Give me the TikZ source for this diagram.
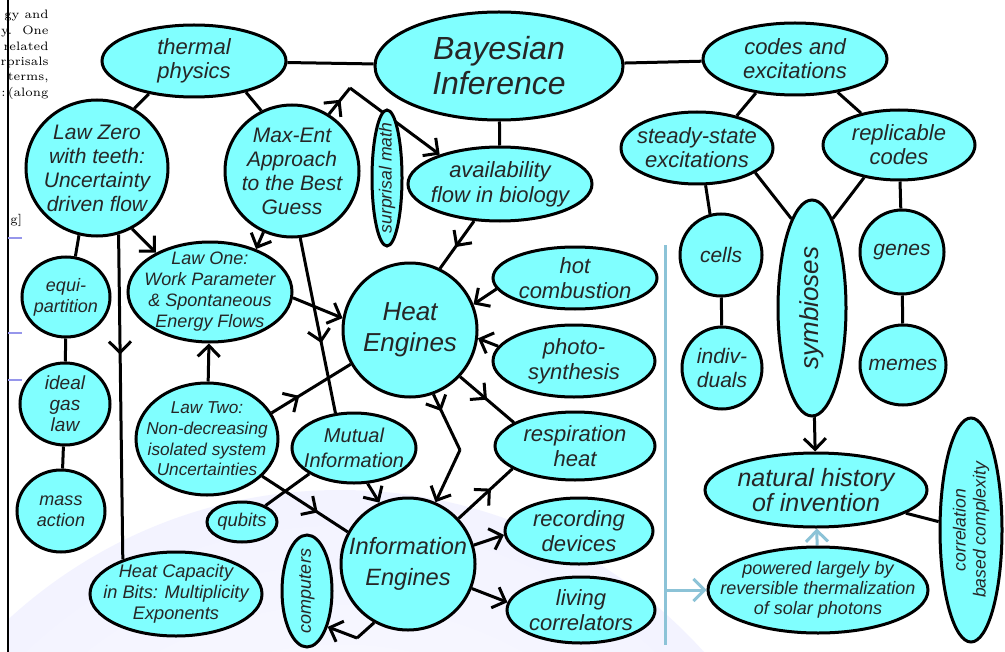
\documentclass[tikz,border=0pt]{standalone}
\usepackage{fontspec}
\usetikzlibrary{shapes.geometric, arrows.meta, decorations.markings}
\newfontfamily\mapfont{Liberation Sans}
\definecolor{cyanfill}{RGB}{128,255,255}
\definecolor{rail}{RGB}{140,195,215}
\definecolor{tickblue}{RGB}{150,150,235}
\pgfdeclarelayer{globe}
\pgfdeclarelayer{edges}
\pgfsetlayers{globe,edges,main}
\pgfdeclareradialshading{globeshade}{\pgfpointorigin}{color(0bp)=(white); color(36bp)=(blue!7); color(43bp)=(blue!11); color(47bp)=(blue!26); color(50bp)=(blue!50)}

\begin{document}
\begin{tikzpicture}[x=0.5pt, y=-0.5pt,
    blob/.style={ellipse, draw=black, line width=1.5pt, fill=cyanfill, inner xsep=-60pt, inner ysep=-60pt, align=center, text=black!85},
    txt/.style 2 args={font=\mapfont\itshape\fontsize{#1}{#2}\selectfont},
    link/.style={line width=1.5pt},
    flow/.style={link, -{Straight Barb[length=5.5pt, width=11pt]}},
    midflow/.style={link, postaction={decorate}, decoration={markings, mark=at position #1 with {\arrow{Straight Barb[length=5.5pt, width=11pt]}}}}]
    \useasboundingbox (0,0) rectangle (1005,652);

    % page behind the map
    \begin{pgfonlayer}{globe}
        \fill[white] (0,0) rectangle (1005,652);
        \begin{scope}
            \clip (9,0) rectangle (1005,652);
            \shade[shading=globeshade] (340,980) circle[radius=245pt];
        \end{scope}
    \end{pgfonlayer}
    \draw[line width=1pt] (8,0) -- (8,652);
    \foreach \w [count=\i] in {gy and, y.~~One, related, rprisals, {terms,}, :\,(along}
    {
        \node[anchor=east, inner sep=0pt, font=\fontsize{6.1}{7.5}\selectfont] (frag\i) at (49, {15.6*\i}) {\w};
    }
    \node[anchor=west, inner sep=0pt, font=\fontsize{6.1}{7.5}\selectfont] (fragend) at (10,220) {g]};
    \foreach \y in {238,333,380}
        \draw[tickblue, line width=1pt] (8,\y) -- (22,\y);

    % top row
    \node[blob, minimum width=92pt, minimum height=36pt, txt={11}{12}] (thermal) at (194,61) {thermal\\physics};
    \node[blob, minimum width=124pt, minimum height=54pt, txt={16}{17.5}] (bayes) at (499,66) {Bayesian\\Inference};
    \node[blob, minimum width=92pt, minimum height=36pt, txt={11}{12}] (codes) at (795,59) {codes and\\excitations};

    % left side
    \node[blob, minimum width=71pt, minimum height=68pt, txt={10.5}{12}] (lawzero) at (97,168) {Law Zero\\with teeth:\\Uncertainty\\driven flow};
    \node[blob, minimum width=67pt, minimum height=66pt, txt={10.5}{12}] (maxent) at (292,171) {Max-Ent\\Approach\\to the Best\\Guess};
    \node[blob, rotate=90, minimum width=68pt, minimum height=15pt, txt={8.8}{10}] (surprisal) at (387,178) {surprisal math};
    \node[blob, minimum width=92pt, minimum height=37pt, txt={11}{12.5}] (avail) at (500,184) {availability\\flow in biology};
    \node[blob, minimum width=82pt, minimum height=50pt, txt={9}{10.5}] (lawone) at (210,292) {Law One:\\Work Parameter\\\& Spontaneous\\Energy Flows};
    \node[blob, minimum width=44pt, minimum height=40pt, txt={9}{10.5}] (equi) at (66,297) {equi-\\partition};
    \node[blob, minimum width=45pt, minimum height=41pt, txt={9.5}{10.5}] (ideal) at (65,404) {ideal\\gas\\law};
    \node[blob, minimum width=44pt, minimum height=41pt, txt={9}{10.5}] (mass) at (61,511) {mass\\action};
    \node[blob, minimum width=71pt, minimum height=56pt, txt={8.6}{10.3}] (lawtwo) at (207,439) {Law Two:\\Non-decreasing\\isolated system\\Uncertainties};
    \node[blob, minimum width=62pt, minimum height=35pt, txt={10}{12.5}] (mutual) at (354,448) {Mutual\\Information};
    \node[blob, minimum width=35pt, minimum height=20pt, txt={9.2}{10}] (qubits) at (242,522) {qubits};
    \node[blob, rotate=90, minimum width=56pt, minimum height=25pt, txt={9}{10}] (computers) at (307,591) {computers};
    \node[blob, minimum width=86pt, minimum height=42pt, txt={9.1}{10.5}] (hcap) at (176,594) {Heat Capacity\\in Bits: Multiplicity\\Exponents};

    % engines
    \node[blob, minimum width=67pt, minimum height=67pt, txt={13}{15.5}] (heat) at (410,330) {Heat\\Engines};
    \node[blob, minimum width=67pt, minimum height=66pt, txt={11.8}{15.5}] (info) at (408,564) {Information\\Engines};
    \node[blob, minimum width=82pt, minimum height=31pt, txt={11}{12.5}] (hot) at (575,278) {hot\\combustion};
    \node[blob, minimum width=81pt, minimum height=36pt, txt={11}{12.5}] (photo) at (574,361) {photo-\\synthesis};
    \node[blob, minimum width=80pt, minimum height=34pt, txt={11}{12.5}] (resp) at (575,446) {respiration\\heat};
    \node[blob, minimum width=74pt, minimum height=33pt, txt={11}{12.5}] (rec) at (579,531) {recording\\devices};
    \node[blob, minimum width=74pt, minimum height=33pt, txt={11}{12.5}] (living) at (581,610) {living\\correlators};

    % right side
    \node[blob, minimum width=76pt, minimum height=36pt, txt={11}{12}] (steady) at (697,148) {steady-state\\excitations};
    \node[blob, minimum width=76pt, minimum height=35pt, txt={11}{12}] (repl) at (899,145) {replicable\\codes};
    \node[blob, minimum width=41pt, minimum height=41pt, txt={10.5}{12}] (cells) at (721,255) {cells};
    \node[blob, minimum width=40pt, minimum height=41pt, txt={10.5}{12}] (indiv) at (722,368) {indiv-\\duals};
    \node[blob, rotate=90, minimum width=108pt, minimum height=34pt, txt={13}{14}] (symb) at (812,308) {symbioses};
    \node[blob, minimum width=42pt, minimum height=42pt, txt={10.5}{12}] (genes) at (902,252) {genes};
    \node[blob, minimum width=43pt, minimum height=40pt, txt={10.5}{12}] (memes) at (903,365) {memes};
    \node[blob, minimum width=111pt, minimum height=37pt, txt={12.5}{12.5}] (nat) at (816,490) {natural history\\of invention};
    \node[blob, minimum width=110pt, minimum height=43pt, txt={9}{10}] (pow) at (818,590) {powered largely by\\reversible thermalization\\of solar photons};
    \node[blob, rotate=90, minimum width=112pt, minimum height=31pt, txt={8.8}{10}] (corr) at (971,530) {correlation\\based complexity};

    \coordinate (bend) at (350,88);
    \coordinate (kink) at (460,450);
    \coordinate (hook) at (357,638);
    \coordinate (railtop) at (665,245);
    \coordinate (railbot) at (665,645);

    \begin{pgfonlayer}{edges}
        \draw[link] (thermal) -- (bayes);
        \draw[link] (bayes) -- (codes);
        \draw[link] (thermal.216) -- (lawzero.58);
        \draw[link] (thermal.329) -- (maxent.117);
        \draw[link] (bayes) -- (avail);
        \draw[link] (codes.221) -- (steady.39);
        \draw[link] (codes.322) -- (repl.140);
        \draw[link] (steady.283) -- (cells.105);
        \draw[link] (steady.337) -- (symb.13);
        \draw[link] (repl.223) -- (symb.347);
        \draw[link] (repl) -- (genes);
        \draw[link] (cells) -- (indiv);
        \draw[link] (genes) -- (memes);
        \draw[flow] (symb) -- (nat);
        \draw[link] (nat) -- (corr);
        \draw[link] (lawzero.255) -- (equi.77);
        \draw[link] (equi) -- (ideal);
        \draw[link] (ideal) -- (mass);
        \draw[flow] (lawzero.300) -- (lawone.144);
        \draw[midflow=0.37] (lawzero.288) -- (hcap.147);
        \draw[midflow=0.55] (maxent.57) -- (bend);
        \draw[flow] (bend) -- (avail.154);
        \draw[flow] (maxent.245) -- (lawone.43);
        \draw[midflow=0.6] (maxent.277) -- (mutual.118);
        \draw[flow] (lawtwo) -- (lawone);
        \draw[flow] (lawone.356) -- (heat.170);
        \draw[midflow=0.35] (lawtwo.22) -- (heat.210);
        \draw[midflow=0.65] (lawtwo.326) -- (info.152);
        \draw[link] (qubits.35) -- (mutual.210);
        \draw[flow] (mutual.291) -- (info.115);
        \draw[midflow=0.55] (avail.235) -- (heat.64);
        \draw[flow] (hot.188) -- (heat.22);
        \draw[flow] (photo.169) -- (heat.353);
        \draw[midflow=0.5] (heat.317) -- (resp.159);
        \draw[midflow=0.3] (heat.290) -- (kink);
        \draw[flow] (kink) -- (info.66);
        \draw[midflow=0.6] (info.42) -- (resp.200);
        \draw[flow] (info.16) -- (rec.183);
        \draw[flow] (info.339) -- (living.174);
        \draw[link] (info.240) -- (hook);
        \draw[flow] (hook) -- (computers.210);
        % powered by the sun
        \draw[rail, line width=1.5pt] (railtop) -- (railbot);
        \draw[rail, line width=1.5pt, -{Straight Barb[length=5.5pt, width=11pt]}] (railtop |- pow.west) -- (pow.west);
        \draw[rail, line width=1.5pt, -{Straight Barb[length=5.5pt, width=11pt]}] (pow) -- (nat);
    \end{pgfonlayer}
\end{tikzpicture}
\end{document}
